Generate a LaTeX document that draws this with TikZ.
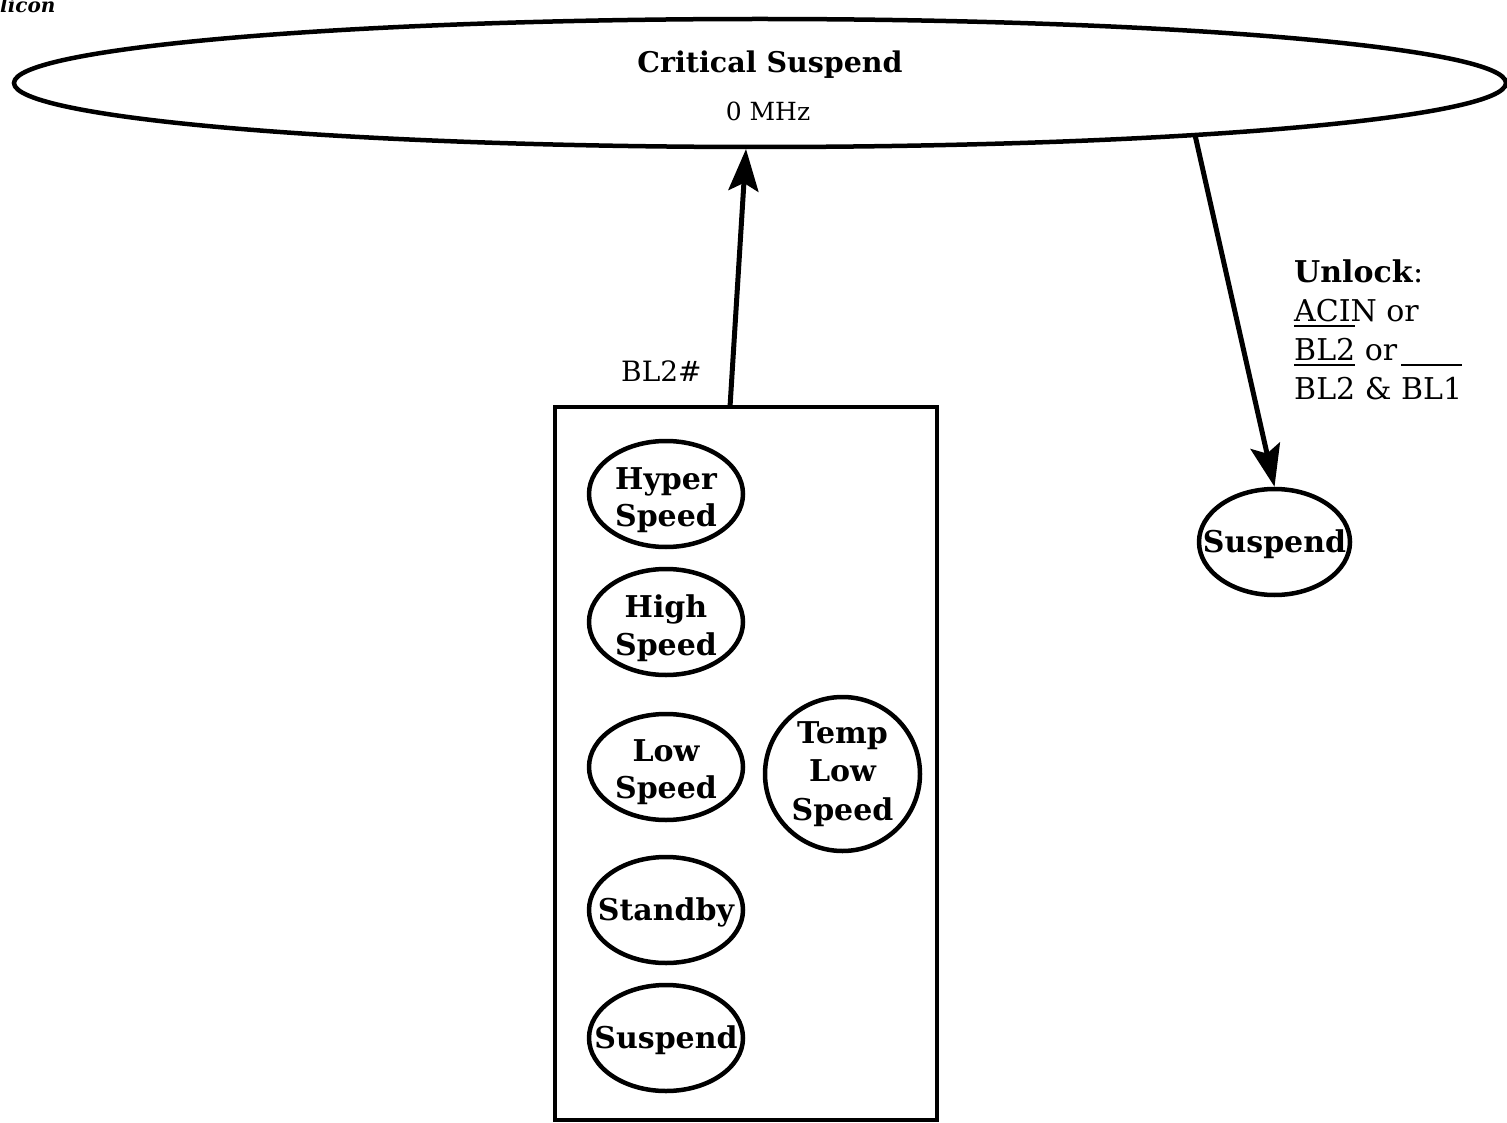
\documentclass[tikz,border=0pt]{standalone}
\usepackage{fontspec}
\setmainfont{DejaVu Serif}
\usetikzlibrary{shapes.geometric,arrows.meta}

% bar drawn above an active-low signal name
\newsavebox\sigbox
\newcommand\ovbar[1]{\sbox\sigbox{#1}\rlap{\rule[33pt]{\wd\sigbox}{2.2pt}}\usebox\sigbox}

\begin{document}
\begin{tikzpicture}[x=1pt,y=-1pt,
  txt/.style={inner sep=0pt},
  bigell/.style={draw, ellipse, line width=4.5pt, minimum width=1492pt,
    minimum height=128pt, inner sep=0pt},
  group/.style={draw, rectangle, line width=4.5pt, minimum width=382pt,
    minimum height=713pt, inner sep=0pt},
  state/.style={draw, ellipse, line width=4.5pt, minimum width=154pt,
    minimum height=106pt, inner sep=0pt},
  lbl/.style={font=\fontsize{30}{37.5}\selectfont\bfseries, align=center},
  arr/.style={line width=5pt, -{Stealth[length=42pt,width=30pt,inset=8pt]}}
]
\useasboundingbox (0,0) rectangle (1507,1123);

% page heading fragment
\node[txt, anchor=base west, font=\fontsize{20}{22}\selectfont\bfseries\itshape]
  (corner) at (0,13) {licon};

% critical suspend state
\node[bigell] (crit) at (760,83) {};
\node[txt, anchor=base, font=\fontsize{28.5}{30}\selectfont\bfseries]
  (critT) at (770,73) {Critical Suspend};
\node[txt, anchor=base, font=\fontsize{25}{26}\selectfont]
  (critF) at (768,121) {0 MHz};

% group of normal operating states
\node[group] (grp) at (746,763.5) {};
\node[state, label={[lbl,yshift=-6pt]center:Hyper\\Speed}] (hyper) at (666,494) {};
\node[state, label={[lbl,yshift=-6pt]center:High\\Speed}] (high) at (666,622) {};
\node[state, label={[lbl,yshift=-5pt]center:Low\\Speed}] (low) at (666,767) {};
\node[state, minimum width=155pt, minimum height=154pt,
  label={[lbl,font=\fontsize{30}{38.5}\selectfont\bfseries]center:Temp\\Low\\Speed}]
  (temp) at (842.5,774) {};
\node[state, label={[lbl,yshift=-2pt]center:Standby}] (stby) at (666,910) {};
\node[state, label={[lbl,yshift=-2pt]center:Suspend}] (susp) at (666,1038) {};

% suspend state reached on unlock
\node[state, minimum width=151pt, label={[lbl,yshift=-2pt]center:Suspend}]
  (susp2) at (1274.5,542) {};

% transitions
\coordinate (grpTop) at (730,407);
\coordinate (critIn) at (746,149);
\coordinate (critOut) at (1195,135);
\draw[arr] (grpTop) -- (critIn);
\draw[arr] (critOut) -- (susp2.north);

\node[txt, anchor=base west, font=\fontsize{28}{36}\selectfont]
  (bl2) at (621,381) {BL2\#};
\node[txt, anchor=north west, align=left, font=\fontsize{30}{38.7}\selectfont]
  (unlock) at (1294,260)
  {\textbf{Unlock}:\\ACIN or\\\ovbar{BL2} or\\\ovbar{BL2} \& \ovbar{BL1}};
\end{tikzpicture}
\end{document}
